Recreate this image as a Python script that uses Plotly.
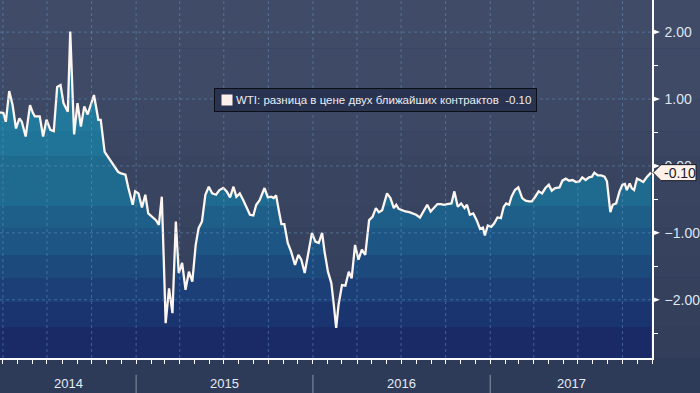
import pandas as pd
import plotly.graph_objects as go

# ---------------- data ----------------
start_date = "2014-03-26"
days_since_start = [
    0, 7, 12, 19, 26, 33, 40, 45, 53, 62, 68, 72, 82, 89, 96, 104, 111, 118, 125, 131,
    140, 145, 153, 160, 167, 174, 181, 194, 203, 208, 216, 230, 244, 250, 259, 265, 274,
    279, 286, 293, 300, 306, 315, 322, 328, 334, 338, 342, 349, 356, 363, 369, 376, 383, 390,
    397, 404, 410, 417, 424, 431, 438, 446, 453, 461, 468, 475, 482, 488, 495, 502, 509, 516,
    523, 529, 536,
    546, 553, 560, 565, 570, 576, 581, 587, 594, 601, 609, 616, 622, 629, 636, 644, 651, 658,
    665, 670, 677, 684, 689, 694, 699, 706, 713, 720, 726, 733, 740, 747, 754, 762, 769, 776,
    782, 789, 799,
    806, 813, 818, 823, 830, 837, 845, 852, 859, 867, 874, 882, 889, 896, 903, 910, 917, 923,
    932, 938, 945, 952, 959, 964, 970, 977, 984, 991, 997, 1001, 1007, 1014, 1020, 1027, 1034,
    1040, 1045, 1051, 1056, 1063, 1070,
    1078, 1085, 1092, 1098, 1105, 1112, 1119, 1126, 1133, 1139, 1146, 1155, 1161, 1168, 1175,
    1182, 1189, 1196, 1202, 1209, 1216, 1222, 1227, 1234, 1241, 1248, 1253, 1260, 1265, 1272,
    1279, 1285, 1290, 1294, 1300, 1304, 1309, 1315, 1321, 1328, 1335, 1344,
]
spread = [
    0.80, 0.79, 0.66, 1.12, 0.91, 0.56, 0.71, 0.66, 0.44, 0.91, 0.79, 0.74, 0.74, 0.44, 0.69,
    0.54, 0.52, 1.18, 1.21, 0.94, 0.81, 2.01, 0.47, 0.94, 0.59, 0.89, 0.77, 1.06, 0.69, 0.69,
    0.21, 0.06, -0.09, -0.11, -0.13, -0.33, -0.58,
    -0.38, -0.41, -0.62, -0.43, -0.71, -0.76, -0.81, -0.88, -0.46, -1.38, -2.35, -1.83, -2.20,
    -0.83, -1.60, -1.45, -1.85, -1.58, -1.73, -1.18, -0.93, -0.83, -0.43, -0.31, -0.41, -0.43,
    -0.36, -0.33, -0.38, -0.47, -0.31, -0.46, -0.41, -0.51, -0.61, -0.73, -0.74, -0.58, -0.51,
    -0.33, -0.47, -0.46, -0.48, -0.44, -0.68, -0.87, -0.87, -1.15, -1.28, -1.48, -1.33, -1.40,
    -1.60, -1.33, -1.00, -1.13, -1.15, -1.00, -1.28, -1.58, -1.75, -2.07, -2.42, -2.07, -1.78,
    -1.79, -1.58, -1.68, -1.18, -1.40, -1.25, -1.33, -0.81, -0.76, -0.63, -0.69, -0.66, -0.41,
    -0.48, -0.63, -0.58, -0.64, -0.66, -0.68, -0.69, -0.71, -0.73, -0.77, -0.68, -0.58, -0.68,
    -0.62, -0.57, -0.57, -0.58, -0.57, -0.56, -0.38, -0.61, -0.56, -0.63, -0.58, -0.73, -0.71,
    -0.81, -0.94, -0.92, -1.04, -0.89, -0.91, -0.86, -0.77, -0.78, -0.61, -0.56, -0.58, -0.46,
    -0.36, -0.32,
    -0.48, -0.52, -0.53, -0.53, -0.46, -0.38, -0.41, -0.33, -0.28, -0.37, -0.33, -0.32, -0.22,
    -0.19, -0.22, -0.21, -0.24, -0.23, -0.17, -0.21, -0.17, -0.16, -0.10, -0.14, -0.14, -0.16,
    -0.23, -0.69, -0.58, -0.56, -0.38, -0.28, -0.27, -0.36, -0.26, -0.33, -0.36, -0.19, -0.21,
    -0.24, -0.17, -0.10,
]
series_name = "WTI: разница в цене двух ближайших контрактов"
year_labels = ["2014", "2015", "2016", "2017"]

# ---------------- style ----------------
Y_MIN, Y_MAX = -2.87, 2.48
X_END_DAYS = 1346
FONT = "Liberation Sans"
PLOT_W, PLOT_H = 656, 358

band_edges = [2.48, 1.75, 1.0, 0.52, 0.15, -0.6, -0.93, -1.33, -1.67, -2.03, -2.4, -2.87]
fill_colors = ["#237c9d", "#227a9b", "#21789a", "#207497", "#1f6a8f", "#1e5f89",
               "#1d5584", "#1c4a7d", "#1b3f76", "#1a346f", "#1a2a67"]
bg_colors = ["#3f4b67", "#3e4a66", "#3c4864", "#3a4662", "#384460", "#37435f",
             "#36425e", "#35415d", "#34405c", "#333f5b", "#323e5a"]

x0 = pd.to_datetime(start_date)
dates = x0 + pd.to_timedelta(days_since_start, unit="D")
x_end = x0 + pd.Timedelta(days=X_END_DAYS)

# discrete vertical colorscale for the fill
span = Y_MAX - Y_MIN
cs = []
for i in range(len(fill_colors) - 1, -1, -1):
    lo = (band_edges[i + 1] - Y_MIN) / span
    hi = (band_edges[i] - Y_MIN) / span
    cs.append([max(0.0, lo), fill_colors[i]])
    cs.append([min(1.0, hi), fill_colors[i]])
cs[0][0] = 0.0
cs[-1][0] = 1.0

fig = go.Figure()
fig.add_trace(go.Scatter(x=dates, y=[Y_MIN] * len(dates), mode="lines",
                         line=dict(width=0), hoverinfo="skip", showlegend=False))
fig.add_trace(go.Scatter(
    x=dates, y=spread, mode="lines", name=series_name,
    line=dict(color="#fdf5f0", width=2.3),
    fill="tonexty",
    fillgradient=dict(type="vertical", colorscale=cs, start=Y_MIN, stop=Y_MAX),
    showlegend=False,
))

shapes = []
# background bands
for i, c in enumerate(bg_colors):
    shapes.append(dict(type="rect", xref="paper", yref="y", x0=0, x1=1.08,
                       y0=band_edges[i + 1], y1=band_edges[i], fillcolor=c,
                       line=dict(width=0), layer="below"))
# grid (drawn above fill)
grid_line = dict(color="rgba(110,160,205,0.45)", width=1, dash="3px,3px")
for d in pd.date_range(x0, x_end, freq="QS"):
    shapes.append(dict(type="line", xref="x", yref="paper", x0=d, x1=d, y0=0, y1=1,
                       line=grid_line, layer="above"))
for v in range(-2, 3):
    shapes.append(dict(type="line", xref="paper", yref="y", x0=0, x1=1, y0=v, y1=v,
                       line=grid_line, layer="above"))
# triangles at major ticks
for v in range(-2, 3):
    shapes.append(dict(type="path", xref="paper", yref="y", xsizemode="pixel",
                       ysizemode="pixel", xanchor=1, yanchor=v,
                       path="M0,3 L8,0 L0,-3 Z", fillcolor="#ffffff",
                       line=dict(width=0), layer="above"))
# year separators
for y in year_labels[1:]:
    d = pd.Timestamp(f"{y}-01-01")
    shapes.append(dict(type="line", xref="x", yref="paper", x0=d, x1=d,
                       y0=-0.047, y1=-0.1, line=dict(color="#8a93a6", width=1)))
# last value tag
last = spread[-1]
shapes.append(dict(type="path", xref="paper", yref="y", xsizemode="pixel",
                   ysizemode="pixel", xanchor=1, yanchor=last,
                   path="M1,0 L9,8 L44,8 L44,-8 L9,-8 Z", fillcolor="#fdf1ea",
                   line=dict(color="#1a1a22", width=1), layer="above"))

annotations = []
for y in year_labels:
    a = max(pd.Timestamp(f"{y}-01-01"), x0)
    b = min(pd.Timestamp(f"{int(y) + 1}-01-01"), x_end)
    annotations.append(dict(x=a + (b - a) / 2, xref="x", y=-0.07, yref="paper",
                            text=y, showarrow=False, yanchor="middle",
                            font=dict(family=FONT, size=13, color="#e6ecf4")))
annotations.append(dict(x=1, xref="paper", xanchor="left", xshift=10, y=last, yref="y",
                        text=f"{last:.2f}", showarrow=False, yanchor="middle",
                        font=dict(family=FONT, size=14, color="#1a1a2a")))
# legend box
annotations.append(dict(
    x=215 / PLOT_W, xref="paper", xanchor="left", y=1 - 100 / PLOT_H, yref="paper",
    yanchor="middle",
    text="\u00a0\u00a0\u00a0\u00a0\u00a0" + series_name + "\u00a0\u00a0" + f"{last:.2f}",
    showarrow=False, bgcolor="#2a3450", bordercolor="#0c0f18", borderwidth=1,
    borderpad=5, font=dict(family=FONT, size=11.5, color="#e8edf4")))
# legend swatch (drawn after box)
shapes_top = [dict(type="rect", xref="paper", yref="paper",
                   x0=222 / PLOT_W, x1=232 / PLOT_W,
                   y0=1 - 105 / PLOT_H, y1=1 - 95 / PLOT_H,
                   fillcolor="#fdf0ea", line=dict(width=0), layer="above")]

fig.update_layout(
    width=700, height=393,
    margin=dict(l=0, r=44, t=0, b=35),
    paper_bgcolor="#2d3a58",
    plot_bgcolor="rgba(0,0,0,0)",
    shapes=shapes, annotations=annotations,
    showlegend=False,
    xaxis=dict(range=[x0, x_end], showgrid=False, zeroline=False,
               showline=True, linecolor="#ffffff", linewidth=1.5,
               ticks="outside", ticklen=4, tickcolor="#ffffff",
               dtick="M1", tick0="2014-01-01", showticklabels=False),
    yaxis=dict(range=[Y_MIN, Y_MAX], side="right", showgrid=False, zeroline=False,
               showline=True, linecolor="#ffffff", linewidth=1.5,
               tickmode="linear", tick0=0, dtick=1, tickformat=".2f",
               ticks="outside", ticklen=4, tickcolor="#ffffff",
               ticklabelstandoff=4,
               minor=dict(dtick=0.5, tick0=0, ticks="outside", ticklen=4,
                          tickcolor="#ffffff", showgrid=False),
               tickfont=dict(family=FONT, size=14, color="#dfe6f0")),
)

# The swatch must sit above the legend box annotation, so draw it as an
# annotation-layer image: use a second tiny annotation with a filled background.
fig.add_annotation(x=222 / PLOT_W, xref="paper", xanchor="left",
                   y=1 - 100 / PLOT_H, yref="paper", yanchor="middle",
                   text="\u00a0", showarrow=False, bgcolor="#fdf0ea",
                   width=10, height=10, borderpad=0,
                   font=dict(family=FONT, size=8))

fig.write_html(
    "out.html",
    config={"displayModeBar": False},
    post_script="document.body.style.margin='0';document.body.style.padding='0';"
                "document.body.style.overflow='hidden';",
)
